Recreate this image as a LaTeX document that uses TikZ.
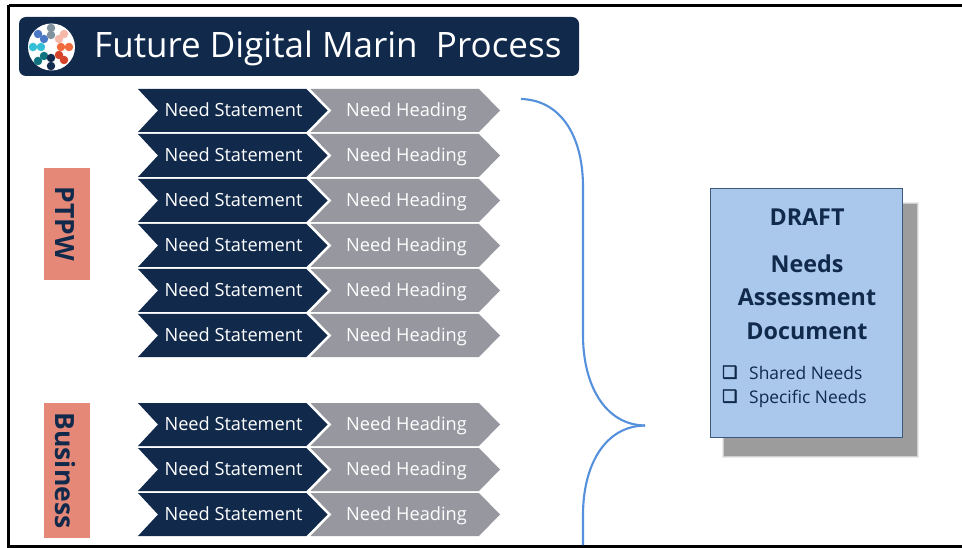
\documentclass[tikz,border=0pt]{standalone}
\usepackage{fontspec}
\setmainfont{Open Sans}
\newfontfamily\dv[FakeBold=3]{DejaVu Sans}
\definecolor{navy}{HTML}{112A4C}
\definecolor{chev}{HTML}{96979F}
\definecolor{salmon}{HTML}{E68878}
\definecolor{paper}{HTML}{A9C8EC}
\definecolor{brace}{HTML}{5590DC}
\definecolor{shadowgrey}{HTML}{9C9C9C}
\tikzset{
  chevlabel/.style={text=white,font=\fontsize{18.2}{20}\selectfont,inner sep=0pt,anchor=base},
  sidebox/.style={fill=salmon,minimum width=46pt,inner sep=0pt},
  sidetext/.style={text=navy,font=\bfseries\fontsize{26.5}{30}\selectfont,rotate=-90,inner sep=0pt},
  doctext/.style={text=navy,font=\bfseries\fontsize{23.3}{27}\selectfont,inner sep=0pt},
  listtext/.style={text=navy,font=\fontsize{17.4}{20}\selectfont,anchor=base west,inner sep=0pt},
  boxmark/.style={text=navy,font=\dv\fontsize{17}{18}\selectfont,anchor=base west,inner sep=0pt},
  dot/.style={circle,inner sep=0pt,minimum size=8.5pt}
}
\begin{document}
\begin{tikzpicture}[x=1pt,y=-1pt]
\useasboundingbox (0,0) rectangle (962,548);
\fill[white] (0,0) rectangle (962,548);
% frame
\draw[black,line width=3pt] (8.5,5.5) -- (962,5.5);
\draw[black,line width=3pt] (8.5,5.5) -- (8.5,546.5) -- (962,546.5);
% title bar
\fill[navy,rounded corners=7pt] (19,17) rectangle (579,76);
\node[circle,fill=white,minimum size=47pt,inner sep=0pt] (logo) at (51.5,47) {};
\foreach \x/\y/\c in {51/28/7F929D,51/35/7F929D,38/34/4A78C4,44/39/4A78C4,64/34/F6B8A8,59/39/F6B8A8,
  33/47/35BFD6,41/47/35BFD6,69/47/F26B3C,61/47/F26B3C,44/56/0F7480,38/61/0F7480,59/55/D5432A,64/60/D5432A,
  51/58/122B4E,51/66/122B4E}{
  \definecolor{dotc}{HTML}{\c}
  \node[dot,fill=dotc] (d\x-\y) at (\x,\y) {};
}
\node[text=white,font=\fontsize{35}{42}\selectfont,anchor=base west,inner sep=0pt] (title) at (94,57.5) {Future Digital Marin\ \ Process};
% chevrons
\foreach \cy/\i in {110.5/1,155.5/2,200.5/3,245.5/4,290.5/5,335.5/6,424.5/7,469.5/8,514.5/9}{
  \fill[chev] (310.5,\cy-21.5) -- (479,\cy-21.5) -- (500,\cy) -- (479,\cy+21.5) -- (310.5,\cy+21.5) -- (331.5,\cy) -- cycle;
  \fill[navy] (138,\cy-21.5) -- (306.5,\cy-21.5) -- (327.5,\cy) -- (306.5,\cy+21.5) -- (138,\cy+21.5) -- (158,\cy) -- cycle;
  \node[chevlabel] (st\i) at (233.5,\cy+6) {Need Statement};
  \node[chevlabel] (he\i) at (406.5,\cy+6) {Need Heading};
}
% side labels
\node[sidebox,minimum height=112pt] (ptpw) at (67,224) {};
\node[sidetext] (ptpwt) at (65,224) {PTPW};
\node[sidebox,minimum height=135pt] (bus) at (67,470.5) {};
\node[sidetext] (bust) at (65.5,470.5) {Business};
% brace
\draw[brace,line width=2.1pt] (521,99) .. controls (560,100) and (583,135) .. (583,187) -- (583,335)
  .. controls (583,385) and (605,425) .. (645,425.5);
\draw[brace,line width=2.1pt] (645,425.5) .. controls (605,426) and (583,465) .. (583,515) -- (583,545);
% document
\foreach \o/\a in {2/0.2,1/0.35}{
  \fill[shadowgrey,opacity=\a] (724-\o,204-\o) rectangle (917+\o,456+\o);
}
\fill[shadowgrey] (724,204) rectangle (917,456);
\node[draw=navy!70!paper,line width=0.8pt,fill=paper,minimum width=192pt,minimum height=249pt,inner sep=0pt] (doc) at (806,312.5) {};
\node[doctext] (draft) at (807,217) {DRAFT};
\node[doctext] (needs) at (807,264) {Needs};
\node[doctext] (assess) at (807,297.5) {Assessment};
\node[doctext] (docu) at (807,331) {Document};
\node[boxmark] (b1) at (722,378) {❑};
\node[boxmark] (b2) at (722,402) {❑};
\node[listtext] (shared) at (749,379) {Shared Needs};
\node[listtext] (specific) at (749,403) {Specific Needs};
\end{tikzpicture}
\end{document}
